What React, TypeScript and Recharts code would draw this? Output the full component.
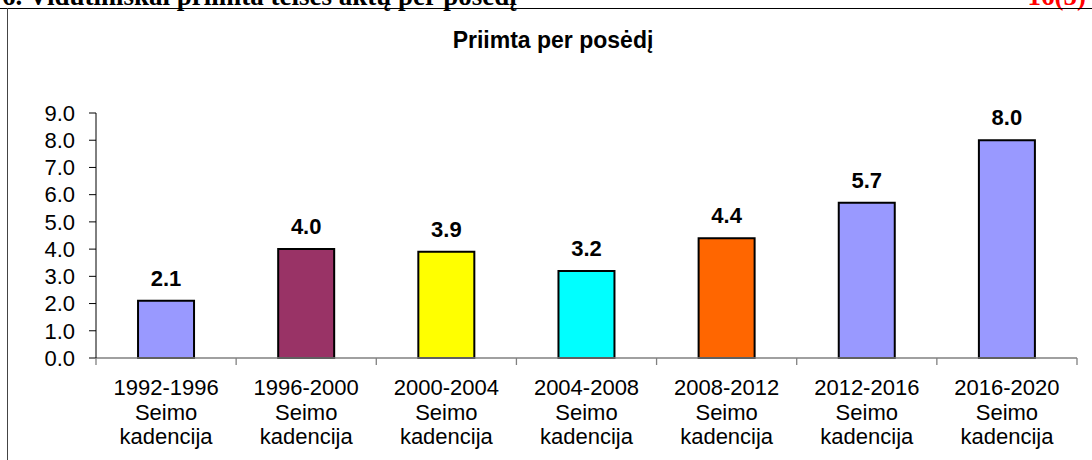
import { Bar, BarChart, Cell, LabelList, XAxis, YAxis } from 'recharts';

const periods = ['1992-1996', '1996-2000', '2000-2004', '2004-2008', '2008-2012', '2012-2016', '2016-2020'];
const perSitting = [2.1, 4.0, 3.9, 3.2, 4.4, 5.7, 8.0];
const barColors = ['#9999FF', '#993366', '#FFFF00', '#00FFFF', '#FF6600', '#9999FF', '#9999FF'];
const yTicks = [0, 1, 2, 3, 4, 5, 6, 7, 8, 9];

const data = periods.map((p, i) => ({ period: p, value: perSitting[i] }));

const FONT = '"Liberation Sans", Arial, sans-serif';
const SERIF = '"Liberation Serif", "Times New Roman", serif';

function PeriodTick(props: any) {
  const { x, y, payload, index, width } = props;
  const half = payload?.offset ?? width / (2 * periods.length);
  const last = index === periods.length - 1;
  return (
    <g>
      <line x1={x - half} x2={x - half} y1={y} y2={y + 7} stroke="#808080" strokeWidth={1.3} />
      {last && <line x1={x + half} x2={x + half} y1={y} y2={y + 7} stroke="#808080" strokeWidth={1.3} />}
      <text textAnchor="middle" fill="#000" style={{ fontFamily: FONT, fontSize: 22 }}>
        <tspan x={x} y={y + 37}>{payload.value}</tspan>
        <tspan x={x} y={y + 61.5}>Seimo</tspan>
        <tspan x={x} y={y + 86}>kadencija</tspan>
      </text>
    </g>
  );
}

export default function App() {
  return (
    <div
      style={{
        position: 'absolute',
        left: 0,
        top: 0,
        width: 1092,
        height: 460,
        overflow: 'hidden',
        background: '#fff',
      }}
    >
      <div
        style={{
          position: 'absolute',
          left: 2,
          top: -17.5,
          fontFamily: SERIF,
          fontWeight: 700,
          fontSize: 27,
          lineHeight: '27px',
          whiteSpace: 'nowrap',
        }}
      >
        6. Vidutiniškai priimta teisės aktų per posėdį
      </div>
      <div
        style={{
          position: 'absolute',
          right: 6,
          top: -17.5,
          fontFamily: SERIF,
          fontWeight: 700,
          fontSize: 27,
          lineHeight: '27px',
          color: '#FF0000',
        }}
      >
        16(5)
      </div>
      <div style={{ position: 'absolute', left: 0, top: 7.5, width: 1092, height: 1.4, background: '#000' }} />
      <div style={{ position: 'absolute', left: 6.5, top: 8, width: 1, height: 460, background: '#444' }} />
      <div
        style={{
          position: 'absolute',
          left: 0,
          top: 28.5,
          width: 1106,
          textAlign: 'center',
          fontFamily: FONT,
          fontWeight: 700,
          fontSize: 23,
          lineHeight: '23px',
          color: '#000',
        }}
      >
        Priimta per posėdį
      </div>
      <div style={{ position: 'absolute', left: 0, top: 0 }}>
        <BarChart
          width={1092}
          height={460}
          data={data}
          margin={{ top: 113, right: 15, bottom: 0, left: 0 }}
          barCategoryGap="30%"
        >
          <XAxis
            dataKey="period"
            height={102}
            stroke="#808080"
            strokeWidth={1.3}
            tickLine={false}
            tickSize={0}
            tickMargin={0}
            interval={0}
            tick={<PeriodTick />}
          />
          <YAxis
            width={96}
            domain={[0, 9]}
            ticks={yTicks}
            interval={0}
            stroke="#000"
            tickSize={7}
            tickMargin={14}
            tickFormatter={(v: number) => v.toFixed(1)}
            tick={{ fill: '#000', fontSize: 22, fontFamily: FONT }}
          />
          <Bar dataKey="value" stroke="#000" strokeWidth={2} isAnimationActive={false}>
            {data.map((d, i) => (
              <Cell key={d.period} fill={barColors[i]} />
            ))}
            <LabelList
              dataKey="value"
              position="top"
              offset={15}
              formatter={(v: any) => Number(v).toFixed(1)}
              style={{ fill: '#000', fontSize: 22, fontWeight: 700, fontFamily: FONT }}
            />
          </Bar>
        </BarChart>
      </div>
    </div>
  );
}
